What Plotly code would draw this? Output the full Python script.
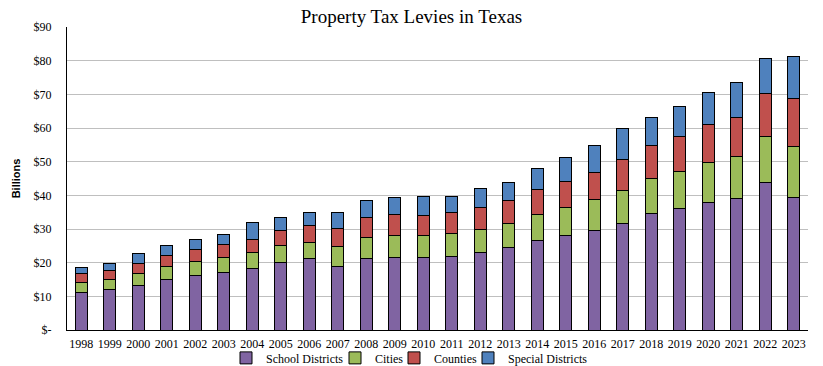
import plotly.graph_objects as go

years = [str(y) for y in range(1998, 2024)]

# cumulative tops (billions)
school_top = [11.2, 12.1, 13.3, 15.0, 16.2, 17.1, 18.3, 20.1, 21.1, 18.9, 21.3, 21.6, 21.6,
              21.9, 23.1, 24.6, 26.6, 28.0, 29.7, 31.7, 34.7, 36.1, 37.9, 39.1, 43.9, 39.4]
cities_top = [14.2, 15.0, 16.8, 18.9, 20.4, 21.6, 23.1, 25.1, 26.0, 24.9, 27.5, 28.1, 28.1,
              28.7, 29.9, 31.7, 34.4, 36.3, 38.7, 41.5, 45.0, 47.0, 49.7, 51.5, 57.4, 54.5]
counties_top = [16.8, 17.8, 19.8, 22.2, 24.0, 25.4, 26.9, 29.6, 31.1, 30.2, 33.5, 34.4, 34.1,
                35.0, 36.4, 38.5, 41.8, 44.1, 46.7, 50.6, 54.8, 57.4, 61.0, 63.1, 70.2, 68.7]
special_top = [18.6, 19.9, 22.6, 25.0, 26.9, 28.5, 31.8, 33.3, 35.0, 34.8, 38.5, 39.5, 39.7,
               39.7, 42.1, 43.8, 47.9, 51.2, 54.8, 59.8, 63.1, 66.3, 70.5, 73.5, 80.6, 81.2]

school = school_top
cities = [round(c - s, 2) for c, s in zip(cities_top, school_top)]
counties = [round(c - s, 2) for c, s in zip(counties_top, cities_top)]
special = [round(c - s, 2) for c, s in zip(special_top, counties_top)]

series_names = ["School Districts", "Cities", "Counties", "Special Districts"]
series_values = [school, cities, counties, special]
series_colors = ["#8064A2", "#9BBB59", "#C0504D", "#4F81BD"]
legend_entry_widths = [64, 14, 29, 84]

tick_vals = [0, 10, 20, 30, 40, 50, 60, 70, 80, 90]
tick_text = ["$-", "$10", "$20", "$30", "$40", "$50", "$60", "$70", "$80", "$90"]

serif = "Liberation Serif, Times New Roman, serif"

fig = go.Figure()
for name, vals, color, ew in zip(series_names, series_values, series_colors, legend_entry_widths):
    fig.add_trace(go.Bar(
        x=years, y=vals, name=name,
        marker=dict(color=color, line=dict(color="black", width=1)),
        legendwidth=ew,
    ))

fig.update_layout(
    width=823, height=366,
    barmode="stack",
    bargap=0.57,
    plot_bgcolor="white",
    paper_bgcolor="white",
    margin=dict(l=67, r=15, t=27, b=36, autoexpand=False),
    title=dict(text="Property Tax Levies in Texas", x=0.5, xanchor="center",
               y=0.955, yanchor="middle",
               font=dict(family=serif, size=19, color="black")),
    font=dict(family=serif, size=12, color="black"),
    legend=dict(orientation="h", xref="container", x=0.5, xanchor="center",
                y=-0.092, yanchor="middle",
                traceorder="normal", font=dict(family=serif, size=12, color="black"),
                itemwidth=30, tracegroupgap=0, bgcolor="rgba(0,0,0,0)"),
    xaxis=dict(showline=True, linecolor="black", linewidth=1, ticks="",
               tickfont=dict(family=serif, size=12, color="black"),
               ticklabelstandoff=3, automargin=False,
               showgrid=False),
    yaxis=dict(range=[0, 90], tickvals=tick_vals, ticktext=tick_text,
               showline=True, linecolor="black", linewidth=1,
               showgrid=True, gridcolor="#BFBFBF", gridwidth=1,
               tickfont=dict(family=serif, size=12, color="black"),
               ticklabelstandoff=12, automargin=False,
               title=dict(text="<b>Billions</b>", standoff=10,
                          font=dict(family="Liberation Sans, Arial, sans-serif", size=11, color="black")),
               zeroline=False),
)

fig.write_html("out.html", config={"displayModeBar": False},
               post_script="document.body.style.margin='0';")
